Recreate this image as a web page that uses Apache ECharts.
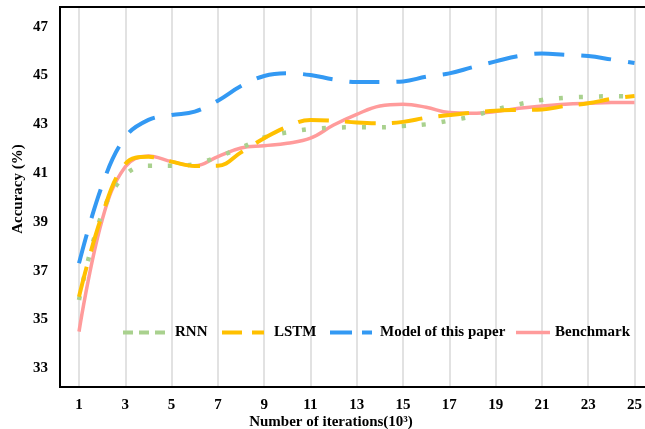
<!DOCTYPE html>
<html><head><meta charset="utf-8">
<script src="https://cdn.jsdelivr.net/npm/echarts@6/dist/echarts.min.js"></script>
<style>html,body{margin:0;padding:0;background:#fff}#c{width:645px;height:429px}</style>
</head><body><div id="c"></div>
<script>
const iterations = ['1','2','3','4','5','6','7','8','9','10','11','12','13','14','15','16','17','18','19','20','21','22','23','24','25'];
const rnn       = [35.8, 39.35, 40.92, 41.3, 41.3, 41.37, 41.67, 42.04, 42.46, 42.67, 42.81, 42.86, 42.88, 42.88, 42.93, 43.0, 43.15, 43.33, 43.61, 43.82, 44.0, 44.09, 44.13, 44.15, 44.14];
const lstm      = [35.93, 39.28, 41.37, 41.67, 41.47, 41.29, 41.3, 41.85, 42.43, 42.9, 43.18, 43.15, 43.07, 43.04, 43.1, 43.27, 43.38, 43.48, 43.56, 43.59, 43.61, 43.75, 43.86, 44.04, 44.16];
const model     = [37.3, 40.5, 42.47, 43.18, 43.38, 43.52, 43.97, 44.57, 44.98, 45.09, 45.02, 44.84, 44.73, 44.73, 44.76, 44.95, 45.09, 45.34, 45.58, 45.8, 45.9, 45.85, 45.8, 45.66, 45.51];
const benchmark = [34.5, 39.08, 41.26, 41.7, 41.47, 41.3, 41.68, 42.03, 42.12, 42.22, 42.43, 42.97, 43.41, 43.75, 43.82, 43.7, 43.48, 43.45, 43.52, 43.66, 43.75, 43.82, 43.86, 43.89, 43.89];
const yTicks = [33, 35, 37, 39, 41, 43, 45, 47];
const seriesNames = ['RNN', 'LSTM', 'Model of this paper', 'Benchmark'];

const font = '"Liberation Serif", "Times New Roman", serif';
const legendDefs = [
  {left: 123, w: 42, icon: 'path://M0,0h10v4h-10z M16,0h10v4h-10z M32,0h10v4h-10z', pad: 5},
  {left: 222, w: 42, icon: 'path://M0,0h20v4h-20z M30,0h12v4h-12z', pad: 5},
  {left: 330, w: 42, icon: 'path://M0,0h22v4h-22z M32,0h10v4h-10z', pad: 3},
  {left: 516, w: 34, icon: 'path://M0,0.3h34v3.4h-34z', pad: 0}
];
const chart = echarts.init(document.getElementById('c'), null, {renderer: 'canvas'});
chart.setOption({
  animation: false,
  backgroundColor: '#fff',
  grid: {left: 79, right: 9, top: 7, bottom: 42, containLabel: false},
  legend: legendDefs.map((d, i) => ({
    left: d.left, top: 325, padding: 0, itemWidth: d.w, itemHeight: 4,
    textStyle: {fontFamily: font, fontWeight: 'bold', fontSize: 15, color: '#000', padding: [0, 0, 0, d.pad]},
    data: [{name: seriesNames[i], icon: d.icon}]
  })),
  xAxis: {
    type: 'category', data: iterations, boundaryGap: false,
    axisLine: {show: false}, axisTick: {show: false},
    axisLabel: {interval: 1, fontFamily: font, fontWeight: 'bold', fontSize: 15, color: '#000', margin: 11},
    splitLine: {show: true, interval: 1, lineStyle: {color: '#d9d9d9', width: 1.5}}
  },
  yAxis: {
    type: 'value', min: 32.23, max: 47.81,
    axisLine: {show: false}, axisTick: {show: false}, splitLine: {show: false},
    axisLabel: {customValues: yTicks, fontFamily: font, fontWeight: 'bold', fontSize: 15, color: '#000', margin: 31}
  },
  graphic: [
    {type: 'rect', shape: {x: 60, y: 7, width: 620, height: 380}, style: {fill: null, stroke: '#000', lineWidth: 2}, z: 100},
    {type: 'text', x: 18, y: 189, rotation: Math.PI / 2,
     style: {text: 'Accuracy (%)', font: 'bold 15px ' + font, fill: '#000', textAlign: 'center', textVerticalAlign: 'middle'}},
    {type: 'text', x: 331, y: 422,
     style: {text: 'Number of iterations(10³)', font: 'bold 15px ' + font, fill: '#000', textAlign: 'center', textVerticalAlign: 'middle'}}
  ],
  series: [
    {name: seriesNames[0], type: 'line', data: rnn, smooth: 0.4, symbol: 'none', z: 3,
     lineStyle: {color: '#A9D18E', width: 4.5, type: [4, 16], cap: 'butt'}, itemStyle: {color: '#A9D18E'}},
    {name: seriesNames[1], type: 'line', data: lstm, smooth: 0.4, symbol: 'none', z: 4,
     lineStyle: {color: '#FFC000', width: 4, type: [31, 16], cap: 'butt'}, itemStyle: {color: '#FFC000'}},
    {name: seriesNames[2], type: 'line', data: model, smooth: 0.4, symbol: 'none', z: 5,
     lineStyle: {color: '#3399F3', width: 4, type: [30, 17], cap: 'butt'}, itemStyle: {color: '#3399F3'}},
    {name: seriesNames[3], type: 'line', data: benchmark, smooth: 0.4, symbol: 'none', z: 2,
     lineStyle: {color: '#FF9B9B', width: 3.5, type: 'solid'}, itemStyle: {color: '#FF9B9B'}}
  ]
});
</script></body></html>
